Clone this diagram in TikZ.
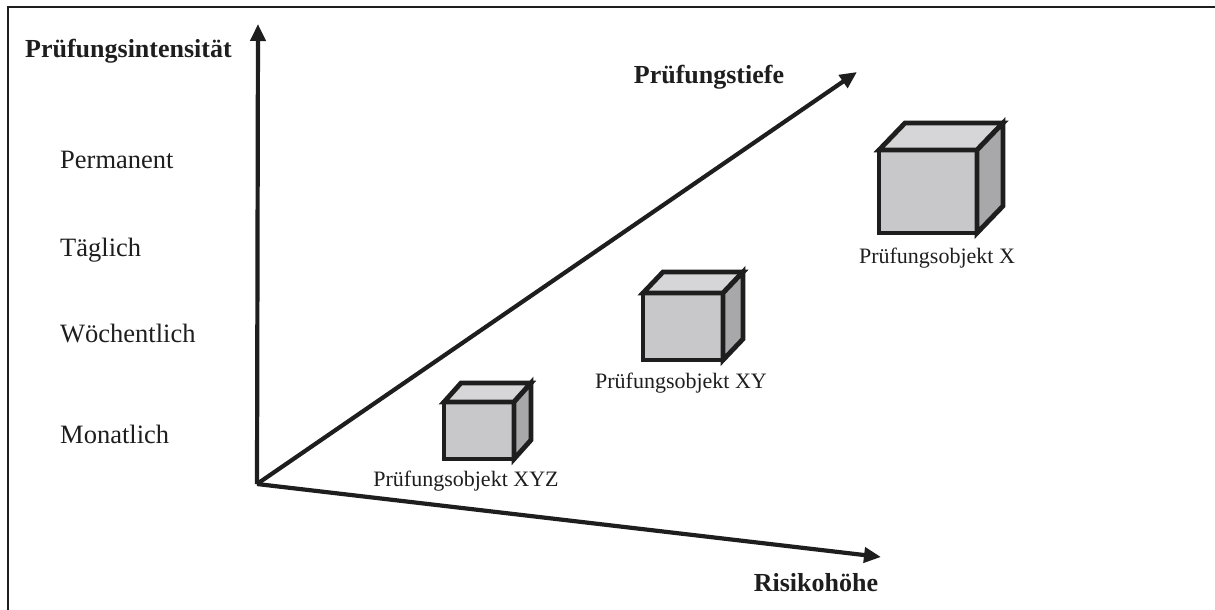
\documentclass[tikz,border=0pt]{standalone}
\usepackage{fontspec}
\setmainfont{Liberation Serif}
\usetikzlibrary{arrows.meta}
\definecolor{frontgray}{RGB}{200,200,202}
\definecolor{topgray}{RGB}{214,214,216}
\definecolor{sidegray}{RGB}{168,168,170}
\definecolor{ink}{RGB}{30,30,30}
% cube: #1,#2 = front top-left, #3,#4 = front bottom-right, #5,#6 = depth offset
\newcommand{\drawcube}[6]{%
  \filldraw[cubeline,fill=frontgray] (#1,#2) rectangle (#3,#4);
  \filldraw[cubeline,fill=topgray] (#1,#2) -- ({#1+#5},{#2+#6}) -- ({#3+#5},{#2+#6}) -- (#3,#2) -- cycle;
  \filldraw[cubeline,fill=sidegray] (#3,#2) -- ({#3+#5},{#2+#6}) -- ({#3+#5},{#4+#6}) -- (#3,#4) -- cycle;
}
\begin{document}
\begin{tikzpicture}[x=1pt,y=-1pt,
  axis/.style={draw=ink,line width=4.2pt,-{Triangle[length=17pt,width=15pt]}},
  cubeline/.style={draw=ink,line width=4.8pt,line join=miter},
  frameline/.style={draw=ink,line width=2pt},
  boldlabel/.style={font=\fontsize{26}{30}\selectfont\bfseries,text=ink,inner sep=0pt},
  levellabel/.style={font=\fontsize{26.5}{30}\selectfont,text=ink,inner sep=0pt},
  objlabel/.style={font=\fontsize{22}{26}\selectfont,text=ink,inner sep=0pt}]
\useasboundingbox (0,0) rectangle (1215,610);
\fill[white] (0,0) rectangle (1215,610);
% frame
\draw[frameline] (1215,7.5) -- (7.5,7.5) -- (7.5,610);
% axes
\coordinate (O) at (257,484);
\coordinate (up) at (258,24);
\coordinate (deep) at (857,72);
\coordinate (risk) at (881,557);
\draw[axis] (O) -- (up);
\draw[axis] (O) -- (deep);
\draw[axis] (O) -- (risk);
% axis titles
\node[boldlabel,anchor=base west] (intens) at (25,58) {Prüfungsintensität};
\node[boldlabel,anchor=base] (tiefe) at (709,83) {Prüfungstiefe};
\node[boldlabel,anchor=base] (hoehe) at (816,591) {Risikohöhe};
% intensity levels
\node[levellabel,anchor=base west] (perm) at (60,168) {Permanent};
\node[levellabel,anchor=base west] (tägl) at (60,256) {Täglich};
\node[levellabel,anchor=base west] (woech) at (60,342) {Wöchentlich};
\node[levellabel,anchor=base west] (monat) at (60,443) {Monatlich};
% objects
\drawcube{444}{402}{514}{459}{17}{-19}
\drawcube{643}{293}{723}{360}{20}{-21}
\drawcube{879}{150}{977}{233}{26}{-27}
\node[objlabel,anchor=base] (objxyz) at (466,486) {Prüfungsobjekt XYZ};
\node[objlabel,anchor=base] (objxy) at (681,388) {Prüfungsobjekt XY};
\node[objlabel,anchor=base] (objx) at (937,263) {Prüfungsobjekt X};
\end{tikzpicture}
\end{document}
